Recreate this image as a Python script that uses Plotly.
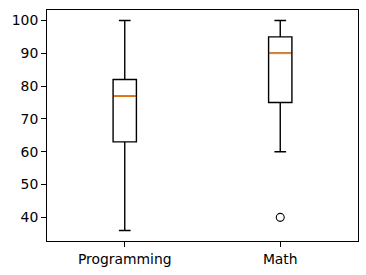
import plotly.graph_objects as go

categories = ["Programming", "Math"]
positions = [1, 2]
q1 = [63, 75]
median = [77, 90]
q3 = [82, 95]
lower_whisker = [36, 60]
upper_whisker = [100, 100]
outliers_math = [40]

box_width = 0.15
fig = go.Figure()
for i, cat in enumerate(categories):
    fig.add_trace(go.Box(
        x=[positions[i]], q1=[q1[i]], median=[median[i]], q3=[q3[i]],
        lowerfence=[lower_whisker[i]], upperfence=[upper_whisker[i]],
        width=box_width, whiskerwidth=0.5, boxpoints=False,
        fillcolor="rgba(255,255,255,0)", line=dict(color="black", width=1.4),
        showlegend=False, hoverinfo="skip", name=cat,
    ))
    # orange median line overlay
    fig.add_trace(go.Scatter(
        x=[positions[i] - box_width / 2 + 0.004, positions[i] + box_width / 2 - 0.004],
        y=[median[i], median[i]], mode="lines",
        line=dict(color="#ff7f0e", width=1.7), showlegend=False, hoverinfo="skip",
    ))

fig.add_trace(go.Scatter(
    x=[positions[1]] * len(outliers_math), y=outliers_math, mode="markers",
    marker=dict(symbol="circle-open", size=8, color="black", line=dict(width=1.1)),
    showlegend=False, hoverinfo="skip",
))

fig.update_layout(
    width=366, height=275,
    margin=dict(l=47, r=8, t=10, b=34),
    paper_bgcolor="white", plot_bgcolor="white",
    font=dict(family="DejaVu Sans", size=13.9, color="black"),
)
fig.update_xaxes(
    range=[0.5, 2.5], tickvals=positions, ticktext=categories,
    showgrid=False, zeroline=False, showline=True, mirror=True,
    linecolor="black", linewidth=1.1, ticks="outside", ticklen=4.9, tickwidth=1.1,
    tickcolor="black",
)
fig.update_yaxes(
    range=[32.8, 103.2], tickvals=[40, 50, 60, 70, 80, 90, 100],
    showgrid=False, zeroline=False, showline=True, mirror=True,
    linecolor="black", linewidth=1.1, ticks="outside", ticklen=4.9, tickwidth=1.1,
    tickcolor="black",
)

fig.write_html("out.html")
